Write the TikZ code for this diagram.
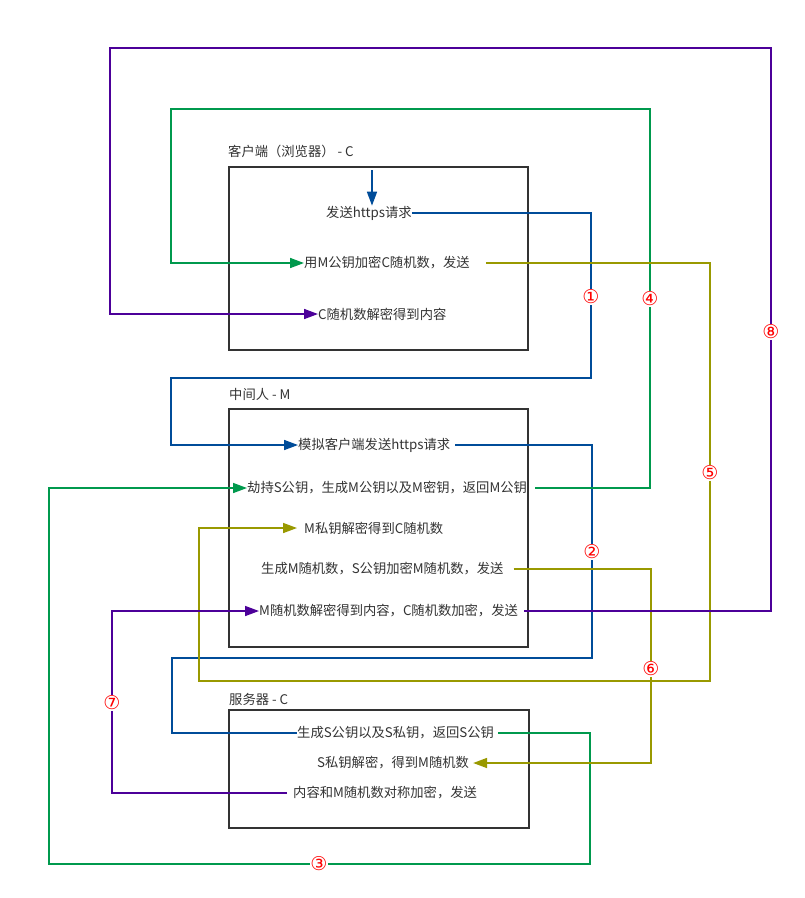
\documentclass[tikz,border=0pt]{standalone}
\usepackage{fontspec}
\newfontfamily\cjk{Noto Sans CJK SC}
\newfontfamily\symb{DejaVu Sans}
\usetikzlibrary{arrows.meta}
\definecolor{lnblue}{HTML}{004C99}
\definecolor{lngreen}{HTML}{00994D}
\definecolor{lnolive}{HTML}{999900}
\definecolor{lnpurple}{HTML}{4C0099}
\definecolor{boxgray}{HTML}{333333}
\definecolor{textgray}{HTML}{333333}
\begin{document}
\begin{tikzpicture}[x=1pt,y=-1pt,
    txt/.style={anchor=west,inner sep=0pt,text=textgray,font=\cjk\fontsize{13.3}{15}\selectfont},
    box/.style={draw=boxgray,line width=2pt},
    num/.style={fill=white,inner sep=0.5pt,text=red,font=\symb\fontsize{19}{19}\selectfont},
    wire/.style={line width=1.6pt},
    tip/.style={-{Triangle[length=14pt,width=10pt]}}]
  \fill[white] (0,0) rectangle (805,898);
  \useasboundingbox (0,0) rectangle (805,898);
  \draw[box] (229,167) rectangle (528,350);
  \draw[box] (229,409) rectangle (528,647);
  \draw[box] (229,710) rectangle (529,828);
  \draw
    (228,151) node[txt] (titleC){客户端（浏览器） - C}
    (229,394) node[txt] (titleM){中间人 - M}
    (229,699) node[txt] (titleS){服务器 - C}
    (326,213) node[txt] (reqC){发送https请求}
    (304,263) node[txt] (encC){用M公钥加密C随机数，发送}
    (318,314) node[txt] (decC){C随机数解密得到内容}
    (298,445) node[txt] (reqM){模拟客户端发送https请求}
    (247,488) node[txt] (hijackM){劫持S公钥，生成M公钥以及M密钥，返回M公钥}
    (304,528) node[txt] (decM){M私钥解密得到C随机数}
    (261,569) node[txt] (genM){生成M随机数，S公钥加密M随机数，发送}
    (259,611) node[txt] (relayM){M随机数解密得到内容，C随机数加密，发送}
    (297,733) node[txt] (genS){生成S公钥以及S私钥，返回S公钥}
    (317,763) node[txt] (decS){S私钥解密，得到M随机数}
    (293,793) node[txt] (sendS){内容和M随机数对称加密，发送};
  \coordinate (start) at (372,170);
  \begin{scope}[wire]
    \draw[lnblue,tip] (start) -- (start |- reqC.north);
    \draw[lnblue,tip] (reqC.east) -| (591,378) -- (171,378) |- (reqM.west);
    \draw[lnblue] ([xshift=5pt]reqM.east) -| (592,658) -- (172,658) |- (genS.west);
    \draw[lngreen,tip] ([xshift=4pt]genS.east) -| (590,864) -- (49,864) |- (hijackM.west);
    \draw[lngreen,tip] ([xshift=8pt]hijackM.east) -| (650,109) -- (171,109) |- (encC.west);
    \draw[lnolive,tip] ([xshift=16pt]encC.east) -| (710,681) -- (199,681) |- ([xshift=-7pt]decM.west);
    \draw[lnolive,tip] ([xshift=10pt]genM.east) -- (651,569) |- ([xshift=4pt]decS.east);
    \draw[lnpurple,tip] ([xshift=-6pt]sendS.west) -- (112,793) |- (relayM.west);
    \draw[lnpurple,tip] ([xshift=6pt]relayM.east) -| (771,48) -- (110,48) |- (decC.west);
  \end{scope}
  \draw
    (591,297) node[num] (n1){①}
    (592,552) node[num] (n2){②}
    (319,864) node[num] (n3){③}
    (650,299) node[num] (n4){④}
    (710,473) node[num] (n5){⑤}
    (651,669) node[num] (n6){⑥}
    (112,703) node[num] (n7){⑦}
    (771,332) node[num] (n8){⑧};
\end{tikzpicture}
\end{document}
